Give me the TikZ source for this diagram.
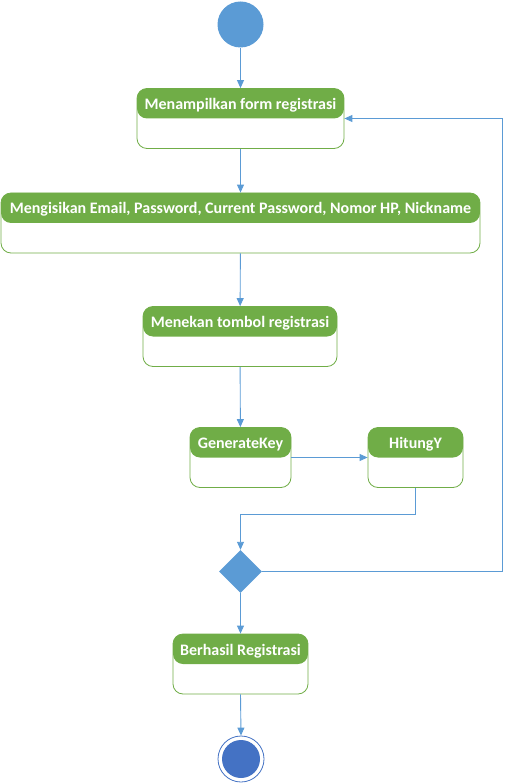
\documentclass[tikz,border=0pt]{standalone}
\usepackage{fontspec}
\setmainfont{Carlito}
\usetikzlibrary{shapes.geometric,arrows.meta}
\definecolor{hdrgreen}{HTML}{70AD47}
\definecolor{flowblue}{HTML}{5B9BD5}
\definecolor{endblue}{HTML}{4472C4}
\begin{document}
\begin{tikzpicture}[x=1pt,y=-1pt,
  actbox/.style={rectangle, rounded corners=10pt, draw=hdrgreen, line width=0.8pt,
    minimum height=60pt, inner sep=0pt, text height=8pt, text depth=26pt,
    font=\fontsize{16}{19}\selectfont\bfseries, text=white,
    path picture={\fill[hdrgreen] (path picture bounding box.north west) rectangle ([yshift=-30pt]path picture bounding box.north east);}},
  arr/.style={draw=flowblue, line width=0.9pt, -{Triangle[length=8pt,width=7pt]}},
  startnode/.style={circle, fill=flowblue, minimum size=46pt, inner sep=0pt},
  decision/.style={diamond, fill=flowblue, minimum width=43pt, minimum height=43pt, inner sep=0pt},
  endring/.style={circle, draw=endblue, line width=0.8pt, fill=white, minimum size=46pt, inner sep=0pt},
  endcore/.style={circle, fill=endblue, minimum size=38pt, inner sep=0pt}]
\useasboundingbox (0,0) rectangle (505,783);
\node[startnode] (s) at (240.5,24.5) {};
\node[actbox, minimum width=207pt] (b1) at (240.5,118.5) {Menampilkan form registrasi};
\node[actbox, minimum width=479pt] (b2) at (240.5,223) {Mengisikan Email, Password, Current Password, Nomor HP, Nickname};
\node[actbox, minimum width=194pt] (b3) at (240,336.5) {Menekan tombol registrasi};
\node[actbox, minimum width=101pt] (gk) at (240.5,457.5) {GenerateKey};
\node[actbox, minimum width=95pt] (hy) at (415.5,457.5) {HitungY};
\node[decision] (d) at (240.5,571.5) {};
\node[actbox, minimum width=135pt] (br) at (240.5,664) {Berhasil Registrasi};
\node[endring] (e) at (241,759) {};
\node[endcore] (ec) at (e.center) {};
\coordinate (mid) at (240.5,514);
\coordinate (rt) at (502.5,118.5);
\draw[arr] (s) -- (b1);
\draw[arr] (b1) -- (b2);
\draw[arr] (b2) -- (b3);
\draw[arr] (b3) -- (gk);
\draw[arr] (gk.east) -- (hy.west);
\draw[arr] (hy.south) |- (mid) -- (d.north);
\draw[arr] (d.east) -| (rt) -- (b1.east);
\draw[arr] (d.south) -- (br.north);
\draw[arr] (br.south) -- (e.north);
\end{tikzpicture}
\end{document}
